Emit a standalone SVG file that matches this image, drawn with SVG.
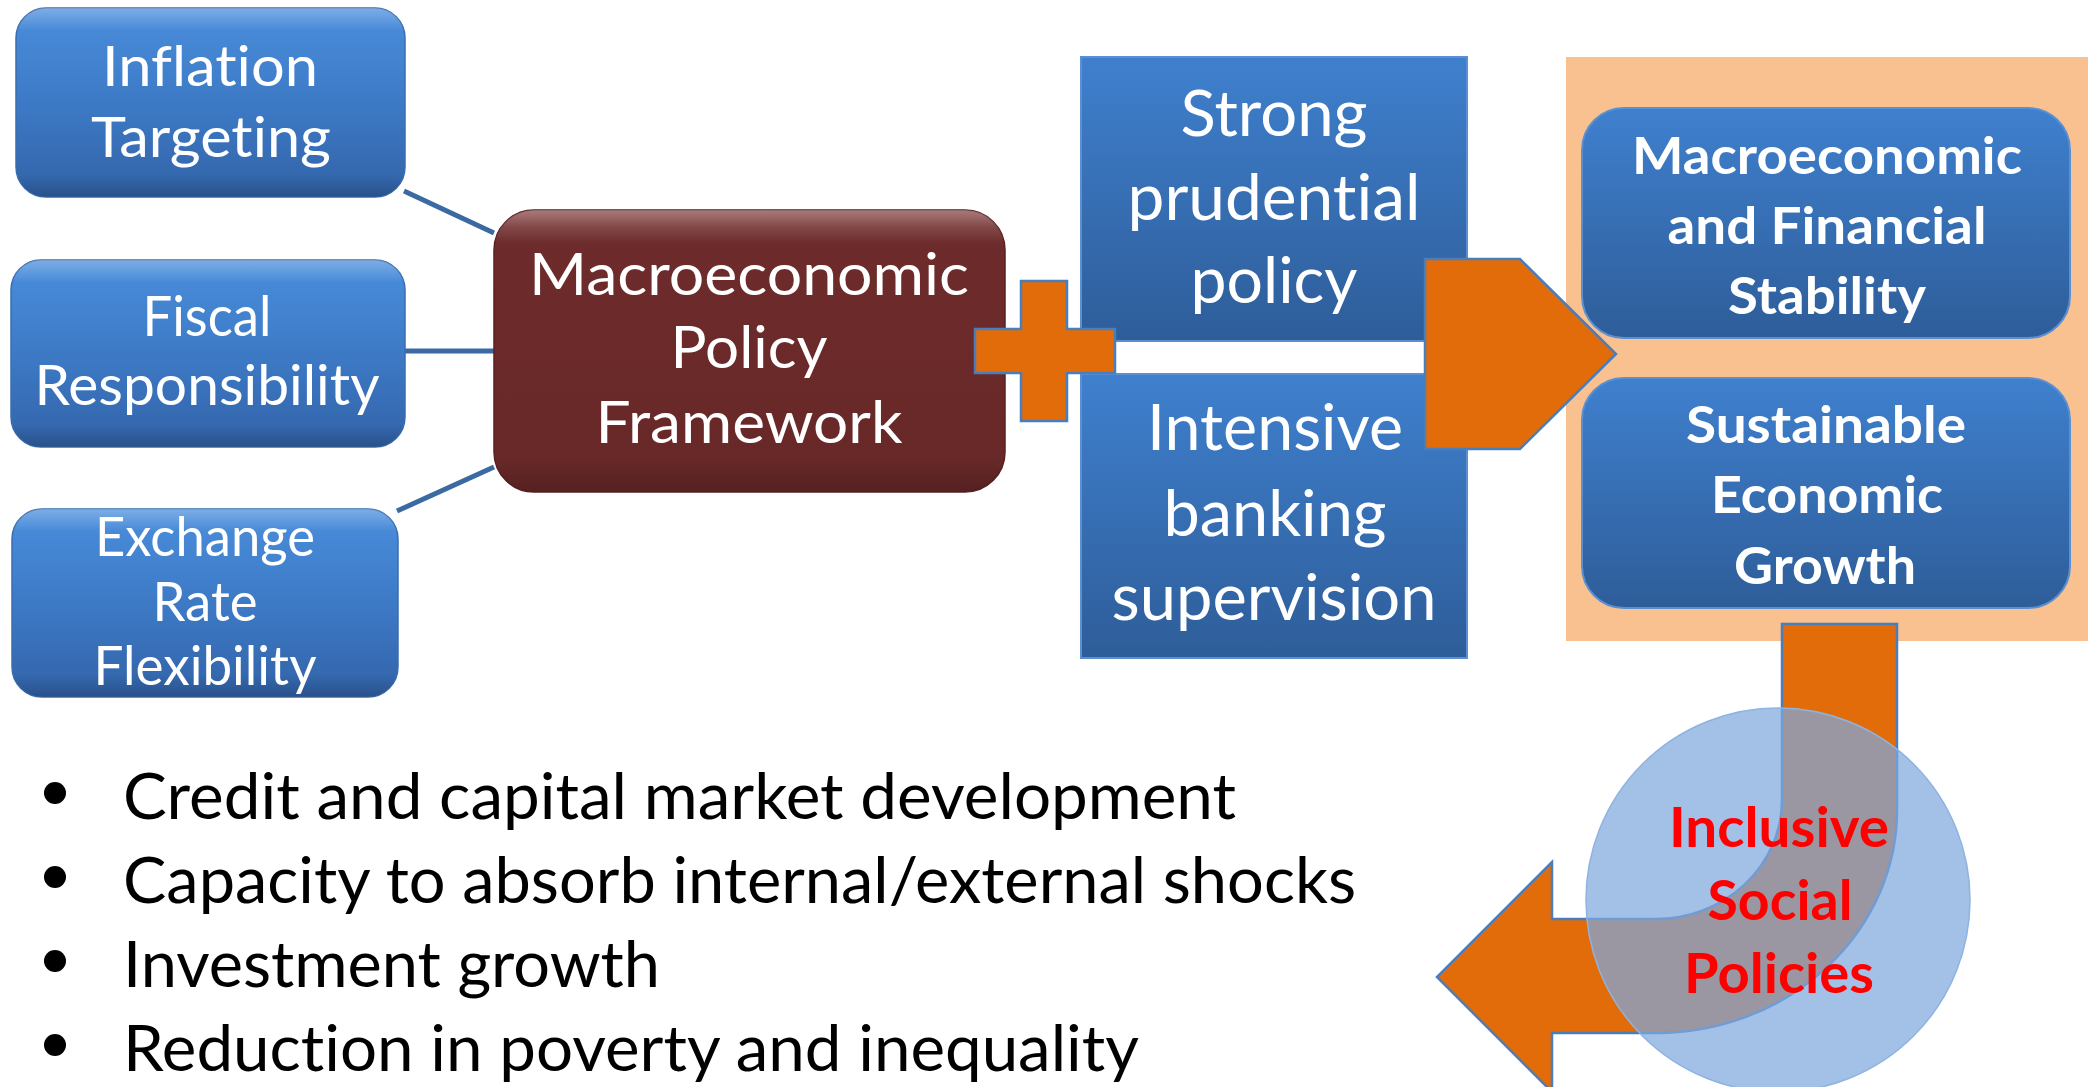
<svg xmlns="http://www.w3.org/2000/svg" width="2091" height="1087" viewBox="0 0 2091 1087">
  <defs>
    <linearGradient id="bevelBlue" x1="0" y1="0" x2="0" y2="1">
      <stop offset="0" stop-color="#4A8EDC"/>
      <stop offset="0.5" stop-color="#3D7AC6"/>
      <stop offset="1" stop-color="#3263A8"/>
    </linearGradient>
    <linearGradient id="flatBlue" x1="0" y1="0" x2="0" y2="1">
      <stop offset="0" stop-color="#3F80CE"/>
      <stop offset="1" stop-color="#2E5D99"/>
    </linearGradient>
    <linearGradient id="maroon" x1="0" y1="0" x2="0" y2="1">
      <stop offset="0" stop-color="#8A4646"/>
      <stop offset="0.06" stop-color="#6E2B2B"/>
      <stop offset="1" stop-color="#682828"/>
    </linearGradient>
    <linearGradient id="gloss" x1="0" y1="0" x2="0" y2="1">
      <stop offset="0" stop-color="#FFFFFF" stop-opacity="0.28"/>
      <stop offset="0.12" stop-color="#FFFFFF" stop-opacity="0"/>
      <stop offset="0.88" stop-color="#000000" stop-opacity="0"/>
      <stop offset="1" stop-color="#000000" stop-opacity="0.18"/>
    </linearGradient>
    <style>
      text { font-variant-ligatures: none; font-feature-settings: "liga" 0, "clig" 0; }
      .lbl { font-family: Lato, "Liberation Sans", sans-serif; fill: #FFFFFF; text-anchor: middle; }
      .bold { font-weight: bold; }
      .red { font-family: Lato, "Liberation Sans", sans-serif; font-weight: bold; fill: #FF0000; text-anchor: middle; }
      .bullet { font-family: Lato, "Liberation Sans", sans-serif; fill: #000000; font-size: 63px; }
      .rbox { fill: url(#bevelBlue); stroke: #3A6DB0; stroke-width: 1.5; }
      .sbox { fill: url(#flatBlue); stroke: #5A8FD2; stroke-width: 2; }
      .orange { fill: #E36C0A; stroke: #4A7EBB; stroke-width: 2.5; stroke-linejoin: miter; }
      .link { stroke: #3B6AA3; stroke-width: 5; fill: none; }
    </style>
  </defs>

  <rect width="2091" height="1087" fill="#FFFFFF"/>

  <!-- connectors from the three policy pillars to the framework box -->
  <g id="connectors">
    <line class="link" x1="404" y1="191" x2="494" y2="233"/>
    <line class="link" x1="404" y1="351" x2="494" y2="351"/>
    <line class="link" x1="397" y1="511" x2="494" y2="467"/>
  </g>

  <g id="inflation-targeting">
    <rect class="rbox" x="16" y="8" width="389" height="189" rx="30"/>
    <rect x="16" y="8" width="389" height="189" rx="30" fill="url(#gloss)"/>
    <text class="lbl" x="210" y="86" font-size="57" textLength="216" lengthAdjust="spacingAndGlyphs">Inflation</text>
    <text class="lbl" x="211" y="157" font-size="57" textLength="240" lengthAdjust="spacingAndGlyphs">Targeting</text>
  </g>

  <g id="fiscal-responsibility">
    <rect class="rbox" x="11" y="260" width="394" height="187" rx="30"/>
    <rect x="11" y="260" width="394" height="187" rx="30" fill="url(#gloss)"/>
    <text class="lbl" x="207" y="336" font-size="57" textLength="129" lengthAdjust="spacingAndGlyphs">Fiscal</text>
    <text class="lbl" x="207" y="405" font-size="57" textLength="345" lengthAdjust="spacingAndGlyphs">Responsibility</text>
  </g>

  <g id="exchange-rate-flexibility">
    <rect class="rbox" x="12" y="509" width="386" height="188" rx="30"/>
    <rect x="12" y="509" width="386" height="188" rx="30" fill="url(#gloss)"/>
    <text class="lbl" x="205" y="556" font-size="54" textLength="220" lengthAdjust="spacingAndGlyphs">Exchange</text>
    <text class="lbl" x="205" y="621" font-size="54" textLength="105" lengthAdjust="spacingAndGlyphs">Rate</text>
    <text class="lbl" x="205" y="685" font-size="54" textLength="223" lengthAdjust="spacingAndGlyphs">Flexibility</text>
  </g>

  <g id="policy-framework">
    <rect x="494" y="210" width="511" height="282" rx="40" fill="url(#maroon)" stroke="#5A2020" stroke-width="1.5"/>
    <rect x="494" y="210" width="511" height="282" rx="40" fill="url(#gloss)"/>
    <text class="lbl" x="749" y="295" font-size="59" textLength="440" lengthAdjust="spacingAndGlyphs">Macroeconomic</text>
    <text class="lbl" x="749" y="368" font-size="59" textLength="157" lengthAdjust="spacingAndGlyphs">Policy</text>
    <text class="lbl" x="749" y="443" font-size="59" textLength="307" lengthAdjust="spacingAndGlyphs">Framework</text>
  </g>

  <g id="prudential-policy">
    <rect class="sbox" x="1081" y="57" width="386" height="284"/>
    <text class="lbl" x="1274" y="136" font-size="63" textLength="187" lengthAdjust="spacingAndGlyphs">Strong</text>
    <text class="lbl" x="1274" y="220" font-size="63" textLength="293" lengthAdjust="spacingAndGlyphs">prudential</text>
    <text class="lbl" x="1274" y="303" font-size="63" textLength="167" lengthAdjust="spacingAndGlyphs">policy</text>
  </g>

  <g id="banking-supervision">
    <rect class="sbox" x="1081" y="374" width="386" height="284"/>
    <text class="lbl" x="1275" y="450" font-size="63" textLength="256" lengthAdjust="spacingAndGlyphs">Intensive</text>
    <text class="lbl" x="1275" y="536" font-size="63" textLength="223" lengthAdjust="spacingAndGlyphs">banking</text>
    <text class="lbl" x="1274" y="620" font-size="63" textLength="325" lengthAdjust="spacingAndGlyphs">supervision</text>
  </g>

  <!-- plus sign joining the framework and the supervisory boxes -->
  <g id="plus">
    <path class="orange" d="M1021 281 H1067 V329 H1115 V373 H1067 V421 H1021 V373 H975 V329 H1021 Z"/>
  </g>

  <g id="outcomes-panel">
    <rect x="1566" y="57" width="522" height="584" fill="#F9C190"/>
  </g>

  <g id="financial-stability">
    <rect class="sbox" x="1582" y="108" width="488" height="230" rx="42"/>
    <text class="lbl bold" x="1827" y="174" font-size="52" textLength="390" lengthAdjust="spacingAndGlyphs">Macroeconomic</text>
    <text class="lbl bold" x="1827" y="244" font-size="52" textLength="319" lengthAdjust="spacingAndGlyphs">and Financial</text>
    <text class="lbl bold" x="1827" y="314" font-size="52" textLength="198" lengthAdjust="spacingAndGlyphs">Stability</text>
  </g>

  <g id="economic-growth">
    <rect class="sbox" x="1582" y="378" width="488" height="230" rx="42"/>
    <text class="lbl bold" x="1826" y="443" font-size="52" textLength="280" lengthAdjust="spacingAndGlyphs">Sustainable</text>
    <text class="lbl bold" x="1827" y="513" font-size="52" textLength="232" lengthAdjust="spacingAndGlyphs">Economic</text>
    <text class="lbl bold" x="1825" y="584" font-size="52" textLength="182" lengthAdjust="spacingAndGlyphs">Growth</text>
  </g>

  <!-- pentagon arrow into the outcomes panel -->
  <g id="arrow-right">
    <path class="orange" d="M1425 259 H1520 L1616 354 L1520 449 H1425 Z"/>
  </g>

  <!-- U-turn arrow from growth back towards the bullet list -->
  <g id="arrow-uturn">
    <path class="orange" d="M1782 624 H1897 V810 A241 223 0 0 1 1656 1033 H1552 V1092 L1437 977 L1552 862 V919 H1656 A126 119 0 0 0 1782 800 Z"/>
  </g>

  <g id="inclusive-social-policies">
    <circle cx="1778" cy="900" r="192" fill="#7FA8DE" fill-opacity="0.72" stroke="#8FB3E0" stroke-width="1.5"/>
    <text class="red" x="1779" y="847" font-size="56" textLength="220" lengthAdjust="spacingAndGlyphs">Inclusive</text>
    <text class="red" x="1780" y="920" font-size="56" textLength="145" lengthAdjust="spacingAndGlyphs">Social</text>
    <text class="red" x="1779" y="993" font-size="56" textLength="190" lengthAdjust="spacingAndGlyphs">Policies</text>
  </g>

  <g id="benefits-list">
    <circle cx="55" cy="793" r="11" fill="#000000"/>
    <circle cx="55" cy="877" r="11" fill="#000000"/>
    <circle cx="55" cy="961" r="11" fill="#000000"/>
    <circle cx="55" cy="1045" r="11" fill="#000000"/>
    <text class="bullet" x="123" y="819" textLength="1113" lengthAdjust="spacingAndGlyphs">Credit and capital market development</text>
    <text class="bullet" x="123" y="903" textLength="1233" lengthAdjust="spacingAndGlyphs">Capacity to absorb internal/external shocks</text>
    <text class="bullet" x="123" y="987" textLength="537" lengthAdjust="spacingAndGlyphs">Investment growth</text>
    <text class="bullet" x="123" y="1071" textLength="1016" lengthAdjust="spacingAndGlyphs">Reduction in poverty and inequality</text>
  </g>
</svg>
